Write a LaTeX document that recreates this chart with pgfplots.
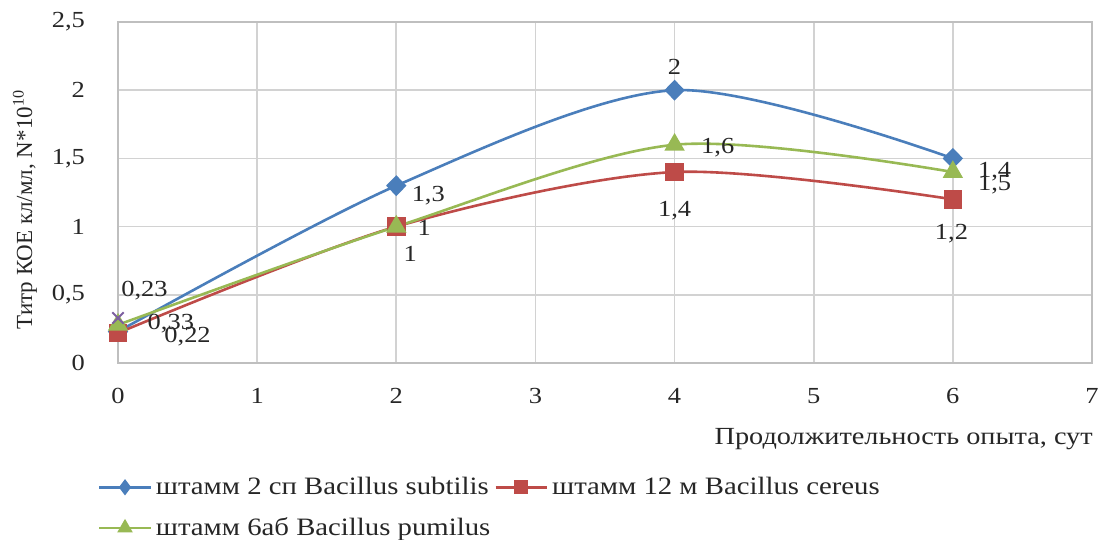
\documentclass[border=0pt]{standalone}
\usepackage{fontspec}
\setmainfont{Liberation Serif}[FakeStretch=1.15]
\newfontfamily\plainserif{Liberation Serif}
\usepackage{pgfplots}
\pgfplotsset{compat=1.18}
\usetikzlibrary{calc}
\definecolor{xblue}{HTML}{4A7EBB}
\definecolor{xred}{HTML}{BE4B48}
\definecolor{xgreen}{HTML}{98B954}
\definecolor{xpurple}{HTML}{7D60A0}
\begin{document}
\begin{tikzpicture}
\begin{axis}[
  name=ax,
  scale only axis,
  width=487pt, height=170.5pt,
  xmin=0, xmax=7, ymin=0, ymax=2.5,
  xtick={0,1,...,7}, ytick={0,0.5,1,1.5,2,2.5},
  /pgf/number format/use comma,
  /pgf/number format/assume math mode=true,
  grid=major,
  grid style={gray!35, line width=0.8pt},
  axis line style={gray!50, line width=0.8pt},
  major tick length=0pt,
  tick label style={font=\fontsize{11.5}{13}\selectfont, black!85},
  xticklabel style={yshift=-9pt},
  yticklabel style={xshift=-13pt},
  xlabel={Продолжительность опыта, сут},
  xlabel style={at={(rel axis cs:1.008,-0.17)}, anchor=north east, font=\fontsize{12.3}{14}\selectfont, black!85},
  ylabel={Титр КОЕ кл/мл, N*10\textsuperscript{10}},
  ylabel style={at={(rel axis cs:-0.0955,0.45)}, anchor=center, font=\plainserif\fontsize{11.5}{13}\selectfont, black!85},
  legend columns=2,
  legend cell align=left,
  legend style={draw=none, fill=none, at={(rel axis cs:-0.027,-0.31)}, anchor=north west,
    font=\fontsize{12.5}{14}\selectfont, text=black!85, row sep=6pt,
    /tikz/every even column/.append style={column sep=0pt}},
  legend image code/.code={\draw[mark repeat=2, mark phase=2, mark options={scale=0.7}] plot coordinates {(0cm,0cm) (0.45cm,0cm) (0.9cm,0cm)};},
  clip=false,
]
\addplot[xblue, line width=1.3pt, smooth, mark=diamond*, mark size=4.3pt, mark options={xscale=1.3, solid}]
  coordinates {(0,0.23) (2,1.3) (4,2) (6,1.5)};
\addlegendentry{штамм 2 сп Bacillus subtilis}
\addplot[xred, line width=1.3pt, smooth, mark=square*, mark size=4pt]
  coordinates {(0,0.22) (2,1) (4,1.4) (6,1.2)};
\addlegendentry{штамм 12 м Bacillus cereus}
\addplot[xgreen, line width=1.3pt, smooth, mark=triangle*, mark size=4.6pt]
  coordinates {(0,0.28) (2,1) (4,1.6) (6,1.4)};
\addlegendentry{штамм 6аб Bacillus pumilus}
\addplot[xpurple, only marks, mark=x, mark size=4pt, line width=1pt, forget plot]
  coordinates {(0,0.33)};
\begin{scope}[every node/.style={font=\fontsize{11.5}{13}\selectfont, text=black!85, inner sep=0pt}]
\node at (axis cs:0.19,0.53) {0,23};
\node at (axis cs:0.38,0.29) {0,33};
\node at (axis cs:0.50,0.19) {0,22};
\node at (axis cs:2.23,1.23) {1,3};
\node at (axis cs:2.20,0.99) {1};
\node at (axis cs:2.10,0.80) {1};
\node at (axis cs:4.00,2.17) {2};
\node at (axis cs:4.31,1.58) {1,6};
\node at (axis cs:4.00,1.12) {1,4};
\node at (axis cs:6.30,1.40) {1,4};
\node at (axis cs:6.30,1.31) {1,5};
\node at (axis cs:5.99,0.95) {1,2};
\end{scope}
\end{axis}
\pgfresetboundingbox
\path[use as bounding box] ($(ax.south west)+(-59pt,-88.5pt)$) rectangle ($(ax.north east)+(8pt,11pt)$);
\end{tikzpicture}
\end{document}
